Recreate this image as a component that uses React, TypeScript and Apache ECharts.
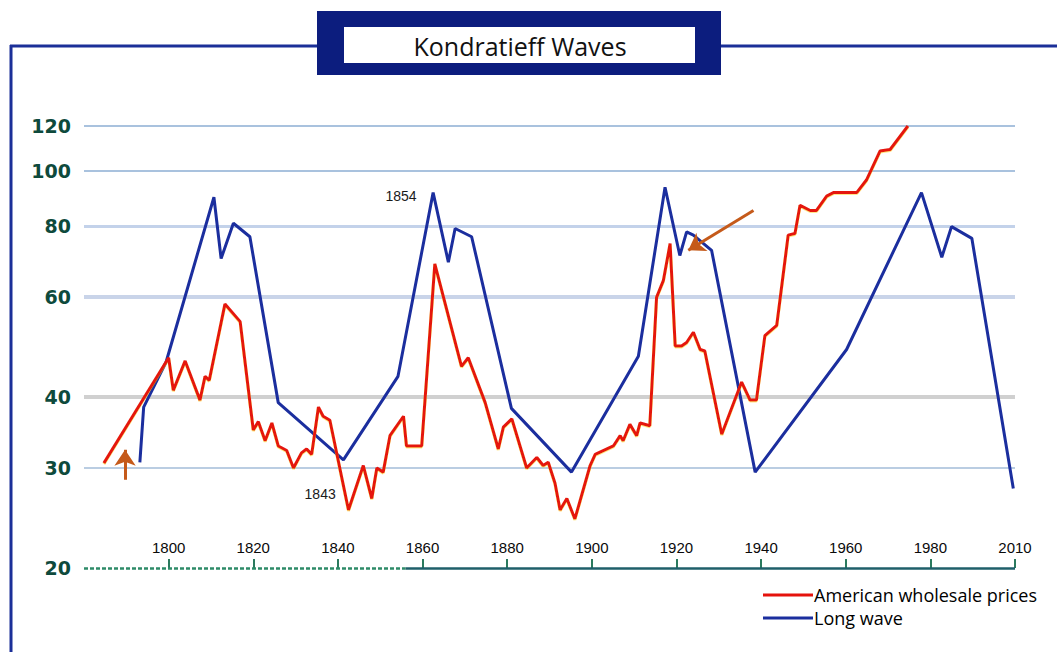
import React, { useEffect, useRef } from "react";
import * as echarts from "echarts";

// American wholesale prices (year, index)
const priceYears = [
  1784.7, 1800.0, 1801.1, 1803.9, 1807.4, 1808.6, 1809.6, 1813.3, 1816.9, 1820.0,
  1821.2, 1822.8, 1824.4, 1825.9, 1827.9, 1829.5, 1831.4, 1832.6, 1833.8, 1835.4,
  1836.5, 1838.1, 1842.5, 1846.0, 1848.0, 1849.2, 1850.7, 1852.3, 1855.5, 1856.2,
  1859.8, 1862.9, 1869.2, 1870.8, 1874.8, 1877.9, 1879.1, 1881.1, 1884.6, 1887.0,
  1888.5, 1889.7, 1891.3, 1892.5, 1894.1, 1896.0, 1899.6, 1900.8, 1905.1, 1906.7,
  1907.4, 1909.0, 1910.6, 1911.4, 1913.7, 1915.3, 1916.9, 1918.5, 1919.7, 1921.2,
  1922.4, 1924.0, 1925.6, 1926.7, 1930.7, 1935.4, 1937.4, 1938.9, 1940.9, 1943.7,
  1946.4, 1948.0, 1949.2, 1951.6, 1953.1, 1955.5, 1957.1, 1962.6, 1964.9, 1968.1,
  1970.5, 1974.7,
];
const priceValues = [
  30.6, 46.9, 41.1, 46.3, 39.5, 43.5, 42.8, 58.3, 54.3, 35.0,
  36.2, 33.5, 36.0, 32.8, 32.2, 30.0, 31.9, 32.4, 31.7, 38.4,
  37.0, 36.4, 25.3, 30.3, 26.5, 30.0, 29.5, 34.2, 37.0, 32.8,
  32.8, 68.6, 45.3, 46.9, 39.1, 32.4, 35.4, 36.6, 30.0, 31.3,
  30.3, 30.7, 28.2, 25.3, 26.5, 24.4, 30.3, 31.7, 32.8, 34.2,
  33.5, 35.8, 34.2, 36.0, 35.6, 59.9, 64.1, 74.5, 49.2, 49.2,
  49.9, 52.0, 48.5, 48.2, 34.4, 42.5, 39.5, 39.5, 51.3, 53.5,
  77.1, 77.6, 87.0, 85.2, 85.2, 90.3, 91.6, 91.6, 96.4, 108.4,
  109.1, 120,
];

// Long wave (year, index)
const waveYears = [
  1793.2, 1794.1, 1799.4, 1810.7, 1812.4, 1815.3, 1819.2, 1825.9, 1841.3, 1854.2,
  1862.5, 1866.1, 1867.7, 1871.6, 1881.0, 1895.2, 1911.0, 1917.3, 1920.8, 1922.4,
  1924.0, 1928.3, 1938.6, 1960.2, 1977.9, 1982.7, 1985.0, 1989.8, 1999.6,
];
const waveValues = [
  30.7, 38.4, 46.1, 89.9, 70.1, 80.9, 76.6, 39.1, 31.0, 43.5,
  91.6, 69.1, 79.2, 76.6, 38.2, 29.5, 47.2, 93.6, 71.0, 78.1,
  77.1, 72.5, 29.5, 48.5, 91.6, 70.5, 79.8, 76.1, 27.6,
];

const xTickYears = [1800, 1820, 1840, 1860, 1880, 1900, 1920, 1940, 1960, 1980, 2000];
const xTickLabels = ["1800", "1820", "1840", "1860", "1880", "1900", "1920", "1940", "1960", "1980", "2010"];
const yGridValues = [30, 40, 60, 80, 100, 120];
const yAxisBase = 20;
const axisSplitYear = 1856;

const seriesNames = ["American wholesale prices", "Long wave"];

const noteYears = [1835.8, 1854.9];
const noteValues = [27.0, 90.4];
const noteTexts = ["1843", "1854"];

const arrowFromYears = [1789.7, 1938.2];
const arrowFromValues = [28.6, 85.2];
const arrowToYears = [1789.7, 1922.8];
const arrowToValues = [32.3, 72.5];

const gridStyles: Record<number, { color: string; width: number }> = {
  120: { color: "#a9c2de", width: 2 },
  100: { color: "#a9c2de", width: 2 },
  80: { color: "#c3d2ea", width: 3 },
  60: { color: "#c9d4e9", width: 4 },
  40: { color: "#d0d0d0", width: 4 },
  30: { color: "#a3bdd8", width: 1.5 },
};

const yLabelStyle = {
  color: "#0e4a3c",
  fontSize: 19,
  fontWeight: "bold" as const,
  fontFamily: "DejaVu Sans",
  distance: 13,
};

export default function App() {
  const ref = useRef<HTMLDivElement>(null);

  useEffect(() => {
    if (!ref.current) return;
    const chart = echarts.init(ref.current, undefined, { renderer: "svg" });

    const gridLines: any[] = yGridValues.map((v) => ({
      yAxis: v,
      lineStyle: { color: gridStyles[v].color, width: gridStyles[v].width, type: "solid" },
      label: { show: true, position: "start", formatter: String(v), ...yLabelStyle },
    }));
    gridLines.push([
      {
        coord: [1780, yAxisBase],
        lineStyle: { color: "#2e8b68", width: 2.5, type: [4, 2] },
        label: { show: true, position: "start", formatter: String(yAxisBase), ...yLabelStyle },
      },
      { coord: [axisSplitYear, yAxisBase] },
    ]);
    gridLines.push([
      {
        coord: [axisSplitYear, yAxisBase],
        lineStyle: { color: "#1f5f6a", width: 2.5, type: "solid" },
        label: { show: false },
      },
      { coord: [2000, yAxisBase] },
    ]);

    const option: any = {
      animation: false,
      backgroundColor: "#ffffff",
      grid: { left: 84, right: 42, top: 126, bottom: 84 },
      legend: {
        data: seriesNames,
        orient: "vertical",
        left: 758,
        top: 581,
        icon: "rect",
        itemWidth: 50,
        itemHeight: 3,
        itemGap: 5,
        textStyle: { fontSize: 18, fontFamily: "Open Sans", color: "#000", padding: [0, 0, 0, -4] },
      },
      xAxis: {
        type: "value",
        min: 1780,
        max: 2000,
        interval: 20,
        axisLine: { show: false },
        splitLine: { show: false },
        axisTick: {
          show: true,
          inside: true,
          length: 9,
          customValues: xTickYears,
          lineStyle: { color: "#2b7a5e", width: 2 },
        },
        axisLabel: {
          inside: true,
          margin: 13,
          customValues: xTickYears,
          formatter: (v: number) => {
            const i = xTickYears.indexOf(v);
            return i >= 0 ? xTickLabels[i] : "";
          },
          fontSize: 15,
          color: "#0a0a0a",
          fontFamily: "Liberation Sans",
        },
      },
      yAxis: {
        type: "log",
        logBase: 10,
        min: 20,
        max: 120,
        axisLine: { show: false },
        axisTick: { show: false },
        axisLabel: { show: false },
        splitLine: { show: false },
      },
      graphic: [
        {
          type: "line",
          z: 1,
          shape: { x1: 10, y1: 46, x2: 1057, y2: 46 },
          style: { stroke: "#1b2f98", lineWidth: 3 },
        },
        {
          type: "line",
          z: 1,
          shape: { x1: 11, y1: 45, x2: 11, y2: 652 },
          style: { stroke: "#1b2f98", lineWidth: 3 },
        },
        {
          type: "rect",
          z: 20,
          shape: { x: 317, y: 11, width: 404, height: 64 },
          style: { fill: "#0c1d7e" },
        },
        {
          type: "rect",
          z: 21,
          shape: { x: 344, y: 27, width: 351, height: 36 },
          style: { fill: "#ffffff" },
        },
        {
          type: "text",
          z: 22,
          x: 520,
          y: 46,
          style: {
            text: "Kondratieff Waves",
            fontSize: 25,
            fontFamily: "Open Sans",
            fill: "#111",
            align: "center",
            verticalAlign: "middle",
          },
        },
      ],
      series: [
        {
          type: "line",
          data: [],
          z: 1,
          silent: true,
          markLine: {
            silent: true,
            z: 1,
            symbol: ["none", "none"],
            animation: false,
            data: gridLines,
          },
        },
        {
          name: seriesNames[1],
          type: "line",
          z: 3,
          symbol: "none",
          data: waveYears.map((y, i) => [y, waveValues[i]]),
          lineStyle: { color: "#1b2e9e", width: 3 },
          itemStyle: { color: "#1b2e9e" },
        },
        {
          name: seriesNames[0],
          type: "line",
          z: 4,
          symbol: "none",
          data: priceYears.map((y, i) => [y, priceValues[i]]),
          lineStyle: {
            color: "#e5120c",
            width: 3,
            shadowColor: "rgba(255,200,0,0.45)",
            shadowBlur: 1,
            shadowOffsetY: 1,
          },
          itemStyle: { color: "#e5120c" },
          markLine: {
            silent: true,
            symbol: ["none", "arrow"],
            symbolSize: 16,
            animation: false,
            label: { show: false },
            lineStyle: { color: "#c55a1a", width: 3, type: "solid" },
            data: arrowFromYears.map((y, i) => [
              { coord: [y, arrowFromValues[i]] },
              { coord: [arrowToYears[i], arrowToValues[i]] },
            ]),
          },
          markPoint: {
            silent: true,
            animation: false,
            data: noteYears.map((y, i) => ({
              coord: [y, noteValues[i]],
              symbol: "rect",
              symbolSize: 1,
              itemStyle: { color: "rgba(0,0,0,0)" },
              label: {
                show: true,
                position: "inside",
                formatter: noteTexts[i],
                color: "#1a1a1a",
                fontSize: 14,
                fontFamily: "Liberation Sans",
              },
            })),
          },
        },
      ],
    };

    chart.setOption(option);
    return () => chart.dispose();
  }, []);

  return (
    <div
      ref={ref}
      style={{ position: "fixed", left: 0, top: 0, width: 1057, height: 652, background: "#fff" }}
    />
  );
}
